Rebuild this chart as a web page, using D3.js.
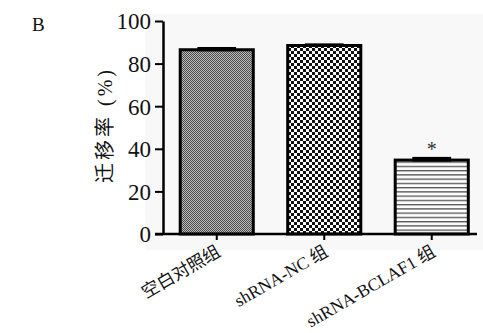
<!DOCTYPE html>
<html>
<head>
<meta charset="utf-8">
<script src="https://cdn.jsdelivr.net/npm/d3@7/dist/d3.min.js"></script>
<style>
  html, body { margin: 0; padding: 0; background: #fff; }
  svg { display: block; }
</style>
</head>
<body>
<svg id="chart" width="483" height="333"></svg>
<script>
// Migration rate per group (%), with upper error (SEM)
const groups = ["空白对照组", "shRNA-NC 组", "shRNA-BCLAF1 组"];
const rates = [86.5, 88.5, 34.7];
const errors = [1.3, 1.0, 1.5];
const significant = [false, false, true];
const yTicks = [0, 20, 40, 60, 80, 100];
const fills = ["url(#fineMesh)", "url(#checker)", "url(#hlines)"];

const FONT = '"Liberation Serif", "Noto Sans CJK SC", serif';
const svg = d3.select("#chart");

// fill patterns
const defs = svg.append("defs");
const mesh = defs.append("pattern").attr("id", "fineMesh")
  .attr("patternUnits", "userSpaceOnUse").attr("width", 2).attr("height", 2);
mesh.append("rect").attr("width", 2).attr("height", 2).attr("fill", "#bdbdbd");
mesh.append("rect").attr("width", 1).attr("height", 1).attr("fill", "#4a4a4a");
mesh.append("rect").attr("x", 1).attr("y", 1).attr("width", 1).attr("height", 1).attr("fill", "#4a4a4a");

const checker = defs.append("pattern").attr("id", "checker")
  .attr("patternUnits", "userSpaceOnUse").attr("width", 6).attr("height", 6);
checker.append("rect").attr("width", 6).attr("height", 6).attr("fill", "#fff");
checker.append("rect").attr("width", 3).attr("height", 3).attr("fill", "#111");
checker.append("rect").attr("x", 3).attr("y", 3).attr("width", 3).attr("height", 3).attr("fill", "#111");

const hl = defs.append("pattern").attr("id", "hlines")
  .attr("patternUnits", "userSpaceOnUse").attr("width", 4).attr("height", 4.25);
hl.append("rect").attr("width", 4).attr("height", 4.25).attr("fill", "#fbfbfb");
hl.append("rect").attr("y", 0).attr("width", 4).attr("height", 1.3).attr("fill", "#555");

// faint panel tint behind the plot
svg.append("rect").attr("x", 145).attr("y", 14).attr("width", 338).attr("height", 236)
  .attr("fill", "#f8f8f8");

const x = d3.scaleBand().domain(groups).range([163, 485.5])
  .paddingInner(0.32).paddingOuter(0.16);
const y = d3.scaleLinear().domain([0, 100]).range([234, 21]);

// bars
svg.append("g").selectAll("rect").data(groups).join("rect")
  .attr("x", d => x(d))
  .attr("y", (d, i) => y(rates[i]))
  .attr("width", x.bandwidth())
  .attr("height", (d, i) => y(0) - y(rates[i]))
  .attr("fill", (d, i) => fills[i])
  .attr("stroke", "#000").attr("stroke-width", 3);

// error caps
const capW = x.bandwidth() * 0.53;
svg.append("g").selectAll("rect").data(groups).join("rect")
  .attr("x", d => x(d) + (x.bandwidth() - capW) / 2)
  .attr("y", (d, i) => y(rates[i] + errors[i]))
  .attr("width", capW)
  .attr("height", (d, i) => y(rates[i]) - y(rates[i] + errors[i]) + 1.5)
  .attr("fill", "#000");

// significance marks
svg.append("g").selectAll("text").data(groups.filter((d, i) => significant[i])).join("text")
  .style("font-family", FONT)
  .attr("x", d => x(d) + x.bandwidth() / 2)
  .attr("y", d => { const i = groups.indexOf(d); return y(rates[i] + errors[i]) - 1; })
  .attr("text-anchor", "middle").attr("font-size", 20).attr("fill", "#333")
  .text("*");

// y axis
const yAxis = svg.append("g").attr("transform", "translate(163,0)")
  .call(d3.axisLeft(y).tickValues(yTicks).tickSize(8).tickPadding(4).tickSizeOuter(0));
yAxis.select(".domain").attr("stroke-width", 2.5);
yAxis.selectAll(".tick line").attr("stroke-width", 2);
yAxis.selectAll(".tick text").style("font-family", FONT).style("font-size", "23px")
  .attr("fill", "#111").attr("dy", "0.34em");

// x axis
const xAxis = svg.append("g").attr("transform", "translate(0,234)")
  .call(d3.axisBottom(x).tickSize(6).tickSizeOuter(0).tickFormat(""));
xAxis.select(".domain").remove();
xAxis.selectAll(".tick line").attr("stroke-width", 2);
svg.append("line").attr("x1", 155).attr("x2", 477).attr("y1", 234).attr("y2", 234)
  .attr("stroke", "#000").attr("stroke-width", 2.5);

// rotated category labels
svg.append("g").selectAll("text").data(groups).join("text")
  .style("font-family", FONT).style("font-size", "17.5px").attr("fill", "#111")
  .attr("text-anchor", "end")
  .attr("transform", d => `translate(${x(d) + x.bandwidth() / 2 + 5},${255}) rotate(-30)`)
  .text(d => d);

// y axis title
svg.append("text")
  .style("font-family", FONT).style("font-size", "20px").style("letter-spacing", "3px")
  .attr("fill", "#111")
  .attr("text-anchor", "middle")
  .attr("transform", "translate(112,125) rotate(-90)")
  .text("迁移率 (%)");

// panel letter
svg.append("text")
  .style("font-family", FONT).style("font-size", "19px")
  .attr("x", 32).attr("y", 31).attr("fill", "#111")
  .text("B");
</script>
</body>
</html>
